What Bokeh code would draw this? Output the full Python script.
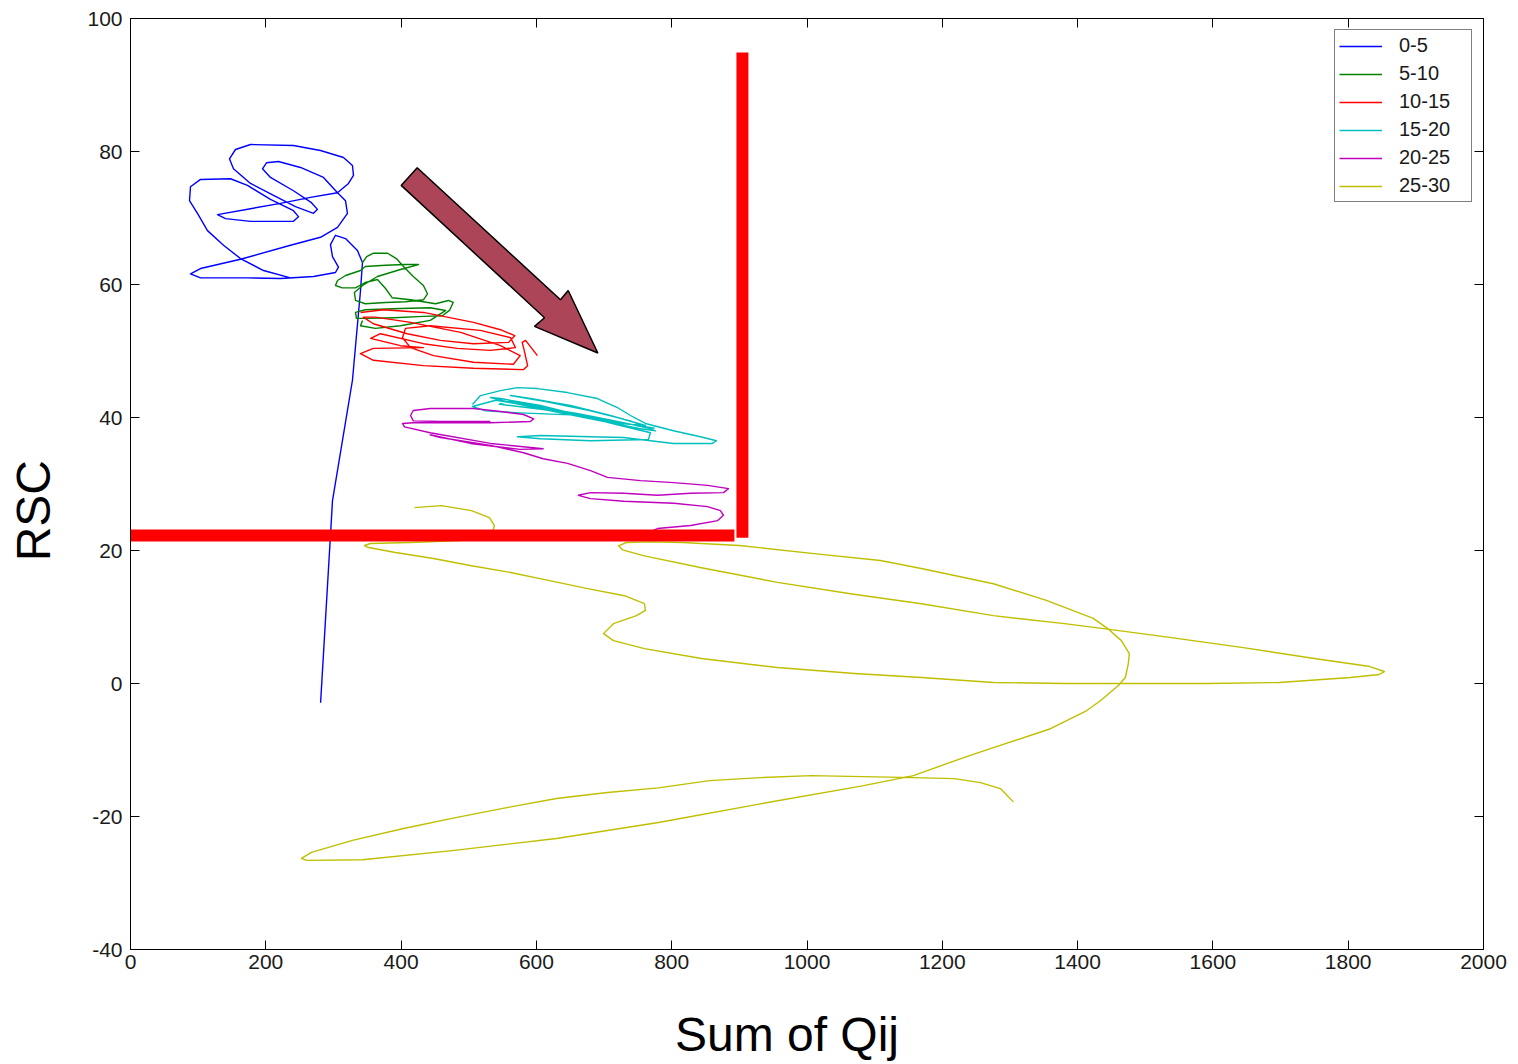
import math
from bokeh.plotting import figure
from bokeh.models import FixedTicker, LinearAxis, Range1d, PrintfTickFormatter
from bokeh.embed import file_html
from bokeh.resources import INLINE

# ---------------- data ----------------
series_names = ["0-5", "5-10", "10-15", "15-20", "20-25", "25-30"]
series_colors = ["#0000ff", "#008000", "#ff0000", "#00bfbf", "#bf00bf", "#bfbf00"]

blue_x = [281, 298.6, 328.1, 340, 342.9, 335.5, 317.8, 303.0, 295.6, 298.6, 307.4, 303.0, 270.5, 221.7,
          172.9, 103.5, 88.7, 103.5, 162.6, 236.5, 280.8, 306.0, 320.7, 317.8, 306.0, 322.2, 329.6, 328.1,
          314.8, 280.8, 240.9, 177.4, 155.2, 146.3, 152.2, 177.4, 211.4, 243.9, 270.5, 276.4, 267.5, 240.9,
          206.9, 195.1, 201.0, 218.7, 251.3, 285.3, 306.0, 266.0, 221.7, 177.4, 128.6, 140.4, 177.4, 240.9,
          248.3, 240.9, 206.9, 172.9, 147.8, 103.5, 88.7, 87.2, 99.0, 113.8, 137.5, 162.6, 196.6, 236.5, 270.5]
blue_y = [-2.9, 27.5, 45.6, 59.1, 63.3, 65.1, 66.9, 67.4, 66.0, 64.2, 62.6, 61.8, 61.2, 60.9,
          61.0, 61.0, 61.6, 62.4, 63.8, 65.9, 67.1, 68.6, 70.7, 72.6, 73.8, 75.2, 76.4, 77.9,
          79.1, 80.15, 80.9, 81.05, 80.3, 78.9, 77.4, 75.2, 73.4, 71.7, 70.7, 71.3, 72.3, 74.1,
          76.1, 77.4, 78.3, 78.5, 77.6, 76.1, 73.8, 73.1, 72.2, 71.4, 70.5, 69.9, 69.5, 69.5,
          70.2, 71.1, 72.8, 74.9, 75.9, 75.8, 74.7, 72.6, 70.7, 68.1, 65.9, 63.9, 62.1, 61.0, 61.2]

green_x = [343, 349, 359, 380, 393, 403.5, 418, 433, 439, 433, 406.5, 377, 347, 332.6, 331, 343, 365, 399,
           425.7, 406.5, 377, 347, 340, 318, 306, 303, 313, 332.6, 347, 365, 377, 387, 414, 451, 470, 477,
           471.5, 461, 433, 389, 350, 334, 332.6, 347, 399, 443, 466, 443, 399, 362, 340, 343]
green_y = [63.3, 64.2, 64.7, 64.7, 63.9, 62.7, 61.2, 59.85, 58.6, 57.7, 57.4, 57.3, 57.1, 57.6, 58.8, 59.85,
           61.2, 62.25, 63.0, 63.0, 62.9, 62.7, 62.1, 61.35, 60.6, 59.85, 59.5, 59.5, 60.3, 60.75, 59.4, 58.0,
           57.7, 57.1, 57.6, 57.3, 56.1, 55.3, 55.2, 55.0, 54.9, 54.9, 55.8, 56.2, 56.4, 56.5, 56.1, 54.6,
           53.8, 53.4, 53.8, 54.6]

red_x = [340, 374, 433, 507, 547, 568, 559, 507, 458, 409, 359, 344, 362, 414, 488, 547, 576, 566, 507, 448,
         414, 402, 406.5, 443, 517, 562, 569, 532, 483, 433, 369.5, 355, 399, 433, 359, 340, 359, 433, 507,
         581, 587, 582, 579, 584, 601.5]
red_y = [55.8, 56.2, 55.8, 54.3, 53.2, 52.3, 51.3, 51.1, 51.6, 52.6, 54.1, 55.1, 55.1, 54.3, 52.8, 50.8, 49.3,
         48.0, 48.3, 49.3, 50.5, 52.0, 53.4, 53.8, 53.1, 52.0, 50.5, 50.1, 50.4, 51.1, 52.6, 51.9, 50.8, 50.5,
         50.4, 49.6, 48.6, 47.8, 47.4, 47.2, 47.8, 50.1, 51.3, 51.6, 49.3]

cyan_x = [505.5, 517.3, 546.9, 572, 601.6, 645.9, 690.2, 719.8, 739, 761.2, 802.6, 842.5, 866.1, 860.2, 802.6,
          728.7, 679.9, 606, 572, 606, 679.9, 765.6, 768.6, 724.2, 665.1, 606, 546.9, 532.1, 561.6, 620.8,
          694.7, 753.8, 776, 739, 679.9, 613.4, 561.6, 591.2, 650.3, 709.4, 761.2, 724.2, 650.3, 576.4,
          524.7, 505.5, 540, 600, 660, 720, 770, 700, 630, 560, 545, 610, 680, 745, 775]
cyan_y = [41.95, 43.3, 44.05, 44.5, 44.35, 43.75, 42.85, 41.5, 40.3, 39.1, 38.0, 37.1, 36.5, 36.1, 36.1,
          37.0, 37.1, 37.3, 37.1, 36.8, 36.5, 36.7, 37.7, 38.8, 40.3, 41.8, 42.85, 43.0, 42.25, 41.0, 39.5,
          38.3, 38.0, 39.5, 41.0, 42.4, 43.3, 42.85, 41.8, 40.3, 38.8, 39.1, 40.4, 40.7, 41.0, 41.65,
          42.6, 41.6, 40.6, 39.4, 38.3, 39.8, 41.1, 42.5, 42.0, 41.2, 40.1, 38.9, 38.4]

magenta_x = [532, 458, 418, 414, 418, 443, 507, 547, 581, 596, 591, 532, 458, 418, 402, 405, 443, 532, 610,
             576, 502.5, 443, 458, 532, 581, 610, 646, 680, 705, 754, 803, 853, 884, 876.5, 828, 779, 729,
             680, 662, 680, 729, 803, 853, 872, 876.5, 868, 828, 779, 769]
magenta_y = [39.4, 39.4, 39.5, 40.3, 41.05, 41.35, 41.35, 40.9, 40.45, 39.8, 39.4, 39.2, 39.2, 39.2, 39.1,
             38.6, 37.7, 36.1, 35.3, 35.2, 36.1, 37.4, 37.0, 35.8, 34.7, 33.8, 33.1, 32.0, 31.0, 30.5, 30.2,
             29.8, 29.3, 28.7, 28.6, 28.3, 28.6, 28.7, 28.3, 27.8, 27.4, 27.1, 26.6, 26.0, 25.3, 24.5, 23.75,
             23.3, 22.85]

yellow_x = [419.8, 459.7, 504.0, 530.6, 538.0, 535.0, 487.7, 413.8, 354.7, 345.9, 351.8, 391.7, 447.8, 504.0,
            561.6, 617.8, 674.0, 730.1, 759.7, 761.2, 747.9, 713.9, 699.1, 713.9, 759.7, 843.9, 956.3, 1070.1,
            1169.1, 1275.5, 1380.5, 1591.8, 1698.2, 1803.2, 1846.0, 1853.4, 1829.8, 1750.0, 1645.0, 1538.6,
            1449.9, 1380.5, 1275.5, 1169.1, 1064.2, 956.3, 843.9, 759.7, 727.2, 721.3, 733.1, 768.6, 815.9,
            900.1, 1013.9, 1108.5, 1169.1, 1275.5, 1353.8, 1423.3, 1444.0, 1464.7, 1476.5, 1475.0, 1470.6,
            1460.3, 1433.7, 1413.0, 1359.8, 1271.1, 1232.7, 1157.3, 1081.9, 931.1, 780.4, 629.6, 478.9,
            342.9, 260.1, 252.7, 267.5, 328.1, 403.5, 478.9, 554.3, 629.6, 705.0, 780.4, 855.8, 931.1,
            1006.5, 1157.3, 1217.9, 1256.3, 1285.9, 1305.1]
yellow_y = [26.45, 26.75, 26.0, 24.95, 23.75, 22.7, 21.5, 21.2, 21.05, 20.75, 20.45, 19.7, 18.8, 17.7, 16.7,
            15.5, 14.3, 13.2, 12.0, 11.0, 10.2, 9.0, 7.5, 6.45, 5.25, 3.75, 2.4, 1.5, 0.9, 0.15, 0.0, 0.0,
            0.15, 0.9, 1.35, 1.8, 2.6, 3.75, 5.4, 6.9, 8.1, 9.0, 10.2, 12.0, 13.5, 15.2, 17.4, 19.2, 20.1,
            20.7, 21.2, 21.3, 21.2, 20.75, 19.5, 18.5, 17.3, 15.0, 12.5, 9.8, 8.3, 6.45, 4.5, 3.0, 0.9, -0.3,
            -2.6, -4.1, -6.8, -9.8, -11.1, -13.85, -15.4, -18.1, -20.9, -23.3, -25.1, -26.5, -26.6, -26.3,
            -25.4, -23.6, -21.8, -20.2, -18.7, -17.3, -16.4, -15.7, -14.6, -14.15, -13.85, -14.15, -14.3,
            -14.9, -15.8, -17.8]

x_ticks = [0, 200, 400, 600, 800, 1000, 1200, 1400, 1600, 1800, 2000]
y_ticks = [-40, -20, 0, 20, 40, 60, 80, 100]
x_title = "Sum of Qij"
y_title = "RSC"

# annotation shapes (data units)
arrow_x = [423.8, 635.6, 647.0, 690.8, 597.2, 612.0, 400.1]
arrow_y = [77.55, 57.7, 59.1, 49.7, 53.7, 55.0, 74.9]
vbar_box = (895.7, 913.4, 21.9, 94.9)   # left, right, bottom, top
hbar_box = (0, 892.7, 21.34, 23.15)

# ---------------- figure ----------------
W, H = 1516, 1064
p = figure(width=W, height=H, output_backend="svg", toolbar_location=None,
           x_range=Range1d(0, 2000), y_range=Range1d(-40, 100),
           min_border_left=130, min_border_right=W - 1483, min_border_top=18,
           min_border_bottom=H - 949,
           background_fill_color="white", border_fill_color="white")
p.outline_line_color = "black"
p.outline_line_width = 1
p.xgrid.visible = False
p.ygrid.visible = False

NB = "\u00a0"
p.xaxis.axis_label = x_title + NB * 3
p.yaxis.axis_label = y_title + NB * 4

for ax, ticks in ((p.xaxis[0], x_ticks), (p.yaxis[0], y_ticks)):
    ax.ticker = FixedTicker(ticks=ticks)
    ax.formatter = PrintfTickFormatter(format="%d")
    ax.major_tick_in = 9
    ax.major_tick_out = 0
    ax.minor_tick_line_color = None
    ax.axis_line_color = "black"
    ax.major_tick_line_color = "black"
    ax.major_label_text_font = "Liberation Sans"
    ax.major_label_text_font_size = "21px"
    ax.major_label_text_color = "#1a1a1a"
    ax.axis_label_text_font = "Liberation Sans"
    ax.axis_label_text_font_size = "48px"
    ax.axis_label_text_font_style = "normal"
    ax.axis_label_text_color = "black"
p.xaxis.major_label_standoff = 5
p.yaxis.major_label_standoff = 8
p.xaxis.axis_label_standoff = 36
p.yaxis.axis_label_standoff = 24

for loc, ticks in (("above", x_ticks), ("right", y_ticks)):
    extra = LinearAxis(ticker=FixedTicker(ticks=ticks), major_tick_in=9, major_tick_out=0,
                       minor_tick_line_color=None, major_label_text_font_size="1px",
                       major_label_text_color=None, major_label_standoff=0,
                       axis_line_color="black", major_tick_line_color="black")
    p.add_layout(extra, loc)

all_x = [blue_x, green_x, red_x, cyan_x, magenta_x, yellow_x]
all_y = [blue_y, green_y, red_y, cyan_y, magenta_y, yellow_y]
for xs, ys, name, col in zip(all_x, all_y, series_names, series_colors):
    p.line(xs, ys, line_color=col, line_width=1.4, line_join="round", legend_label=name)

# red emphasis bars
p.quad(left=[vbar_box[0]], right=[vbar_box[1]], bottom=[vbar_box[2]], top=[vbar_box[3]],
       fill_color="#ff0000", line_color=None)
p.quad(left=[hbar_box[0]], right=[hbar_box[1]], bottom=[hbar_box[2]], top=[hbar_box[3]],
       fill_color="#ff0000", line_color=None)

# arrow
p.patch(arrow_x, arrow_y, fill_color="#ad4559", line_color="black", line_width=1.5)

lg = p.legend[0]
lg.location = "top_right"
lg.margin = 11
lg.border_line_color = "black"
lg.border_line_width = 1.5
lg.background_fill_color = "white"
lg.background_fill_alpha = 1
lg.label_text_font = "Liberation Sans"
lg.label_text_font_size = "20px"
lg.label_text_color = "#1a1a1a"
lg.glyph_width = 43
lg.glyph_height = 22
lg.label_height = 22
lg.label_standoff = 17
lg.padding = 4
lg.spacing = 5
lg.label_width = 68

open("out.html", "w").write(file_html(p, INLINE))
